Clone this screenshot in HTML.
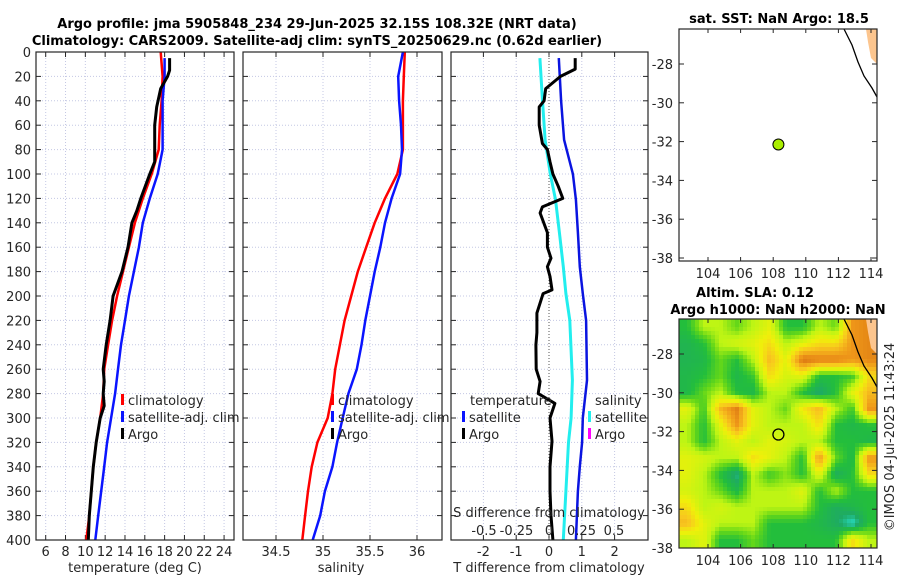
<!DOCTYPE html>
<html><head><meta charset="utf-8"><style>
body{margin:0;background:#fff}
svg{display:block;font-family:"DejaVu Sans","Liberation Sans",sans-serif}
</style></head><body>
<svg id="c" width="900" height="580" viewBox="0 0 900 580" xmlns="http://www.w3.org/2000/svg">
<defs>
<clipPath id="m2clip"><rect x="679" y="319" width="198" height="229"/></clipPath>
</defs>
<text x="317" y="28" text-anchor="middle" font-weight="bold" font-size="13">Argo profile: jma 5905848_234 29-Jun-2025 32.15S 108.32E (NRT data)</text>
<text x="317" y="45" text-anchor="middle" font-weight="bold" font-size="13">Climatology: CARS2009. Satellite-adj clim: synTS_20250629.nc (0.62d earlier)</text>
<text x="779" y="23" text-anchor="middle" font-weight="bold" font-size="13">sat. SST: NaN Argo: 18.5</text>
<text x="755" y="297" text-anchor="middle" font-weight="bold" font-size="13">Altim. SLA: 0.12</text>
<text x="778" y="314" text-anchor="middle" font-weight="bold" font-size="13">Argo h1000: NaN h2000: NaN</text>
<text transform="translate(894,437) rotate(-90)" text-anchor="middle" font-size="13" fill="#262626">©IMOS 04-Jul-2025 11:43:24</text>
<g id="g"></g>
</svg>
<script>
// ---- data ----
const depths = [0,20,40,60,80,100,120,140,160,180,200,220,240,260,280,300,320,340,360,380,400];
const tempClim = [17.6,17.8,17.7,17.5,17.4,16.7,15.8,15.0,14.4,13.8,13.2,12.7,12.3,11.9,11.8,11.5,11.1,10.8,10.6,10.4,10.1];
const tempSat  = [18.0,18.0,17.8,17.8,17.8,17.3,16.5,15.8,15.4,14.9,14.4,14.0,13.6,13.3,13.0,12.6,12.2,11.9,11.6,11.3,11.0];
const argoDepths = [5,15,20,30,45,60,80,90,100,120,130,140,160,180,200,220,240,260,270,280,290,300,320,340,360,380,400];
const tempArgo   = [18.5,18.5,18.3,17.6,17.2,17.0,17.0,17.0,16.5,15.6,15.2,14.7,14.3,13.7,12.8,12.5,12.1,11.8,11.9,11.8,11.9,11.5,11.1,10.8,10.6,10.4,10.3];
const salClim = [35.87,35.86,35.85,35.85,35.85,35.79,35.66,35.55,35.46,35.37,35.30,35.23,35.18,35.13,35.10,35.05,34.94,34.88,34.84,34.81,34.78];
const salSat  = [35.85,35.80,35.81,35.83,35.84,35.82,35.73,35.66,35.61,35.55,35.50,35.45,35.41,35.36,35.27,35.21,35.15,35.10,35.02,34.97,34.89];
const diffDepthsSat = [5,40,72,100,121,148,176,198,220,269,300,320,340,360,380,400];
const tDiffSat = [0.30,0.37,0.46,0.73,0.82,0.88,0.94,1.03,1.13,1.16,1.03,1.01,0.94,0.88,0.85,0.82];
const sDiffSat = [-0.07,-0.05,-0.03,0.01,0.05,0.08,0.11,0.13,0.16,0.18,0.17,0.15,0.14,0.13,0.12,0.11];
const diffDepthsArgo = [5,14,20,30,40,45,60,75,80,90,100,110,120,127,132,148,160,169,176,184,195,198,214,230,240,260,270,280,288,300,319,340,360,380,400];
const tDiffArgo = [0.8,0.8,0.35,-0.1,-0.15,-0.3,-0.3,-0.2,-0.05,0.03,0.12,0.28,0.42,-0.2,-0.27,-0.05,-0.05,0.06,-0.05,0.03,0.09,-0.18,-0.37,-0.37,-0.4,-0.39,-0.27,-0.33,0.18,0.03,0.09,0.03,0.03,0.06,0.12];
const tempTicks = [6,8,10,12,14,16,18,20,22,24];
const salTicks = [34.5,35,35.5,36];
const tDiffTicks = [-2,-1,0,1,2];
const sDiffTicks = [-0.5,-0.25,0,0.25,0.5];
const sDiffTickLabels = ["-0.5","-0.25","0","0.25","0.5"];
const depthTicks = [0,20,40,60,80,100,120,140,160,180,200,220,240,260,280,300,320,340,360,380,400];
const lonTicks = [104,106,108,110,112,114];
const latTicks = [-28,-30,-32,-34,-36,-38];
const argoLon = 108.32, argoLat = -32.15;
// SLA grid: rows top->bottom (lat), cols left->right (lon); null = land
const slaGrid = [
[-1,0,0,-0.5,0,0.5,-1,-1,0,-0.5,2,null],
[-1.3,-1,0,0.3,0.5,1,0,0.5,1,1,2,null],
[-1.3,-1.2,-0.5,-1,0,1.5,0.5,2.5,2.3,2.3,2,null],
[-1.2,-1,-0.5,-1.2,-0.8,1,0.3,0.5,-1,-1,-0.8,1],
[-1.2,-0.5,0,-1,-1.2,0,0,-1,-1.7,-1,0.5,1.5],
[0.5,-0.8,1.5,2.3,0.5,0,-0.5,0.8,1.5,0,-0.8,2],
[0,-1,0.5,2,0.5,0,0,0,1,-1,-1.2,-1],
[0,-1,0,0.5,0,0.5,0.3,0,0,-1,-1,-1.2],
[0.5,0.3,0,0,1,0.5,0,-1,2,-0.5,-1.2,2],
[0.5,0,-1,-1.8,0,-0.8,-0.3,-1,0.5,-1.5,-1,1],
[0.3,0,-0.5,-1.2,0,0,0,0.5,-1,0,-1,-1],
[1,0,0.3,0,0,0,0,0,-1,-1.5,-1.2,-1],
[1.5,0.5,0,0,0,-1,-1,-1,-1.2,-1.5,-2.2,-1],
[0,0.5,-1,-1,-0.5,-1,-1,-1,-1,-1,1,0]];

// ---- drawing ----
const NS='http://www.w3.org/2000/svg';
const G=document.getElementById('g');
function mk(tag,attrs,parent){const e=document.createElementNS(NS,tag);for(const k in attrs)e.setAttribute(k,attrs[k]);(parent||G).appendChild(e);return e;}
const yD = d => 52 + d*1.22;
const P1={x0:36,x1:234}, P2={x0:243,x1:442}, P3={x0:451,x1:648};
const xT = t => 45.7 + (t-6)*9.91;
const xS = s => 323 + (s-35)*94;
const xdT = v => 549 + v*32.8;
const xdS = v => 549 + v*130;
const mLon = lon => 708 + (lon-104)*16.3;
const m1Lat = lat => 64 + (-28-lat)*19.4;
const m2Lat = lat => 354 + (-28-lat)*19.4;

function panel(P,name){
  const gr=mk('g',{});
  
  
  depthTicks.forEach(d=>{
    mk('line',{x1:P.x0,x2:P.x1,y1:yD(d),y2:yD(d),stroke:'#c4c8e4','stroke-width':1,'stroke-dasharray':'1,2'},gr);
    mk('line',{x1:P.x0,x2:P.x0+5,y1:yD(d),y2:yD(d),stroke:'#262626'},gr);
    mk('line',{x1:P.x1-5,x2:P.x1,y1:yD(d),y2:yD(d),stroke:'#262626'},gr);
  });
  return gr;
}
function vgrid(gr,xs,P){xs.forEach(x=>{
  mk('line',{x1:x,x2:x,y1:52,y2:540,stroke:'#c4c8e4','stroke-dasharray':'1,2'},gr);
  mk('line',{x1:x,x2:x,y1:52,y2:57,stroke:'#262626'},gr);
  mk('line',{x1:x,x2:x,y1:535,y2:540,stroke:'#262626'},gr);
});}
function frame(P,gr){mk('rect',{x:P.x0,y:52,width:P.x1-P.x0,height:488,fill:'none',stroke:'#262626','stroke-width':1.2},gr);}
function line(xs,ds,xf,color,w,name,gr){
  const pts=xs.map((v,i)=>xf(v).toFixed(1)+','+yD(ds[i]).toFixed(1)).join(' ');
  const p=mk('polyline',{points:pts,fill:'none',stroke:color,'stroke-width':w,'stroke-linejoin':'round'},gr);
  
  
}
function txt(x,y,s,attrs,name){const t=mk('text',Object.assign({x:x,y:y,'font-size':13,fill:'#262626'},attrs||{}));t.textContent=s;
  
  
  return t;}

depthTicks.forEach(d=>{txt(31,yD(d)+5,String(d),{'text-anchor':'end'},'depth-tick-label');});

// panel 1
let g1=panel(P1,'temperature-panel');
vgrid(g1,tempTicks.map(xT),P1);
line(tempClim,depths,xT,'#ff0000',2.5,'temp-climatology-line',g1);
line(tempSat,depths.map((d,i)=>i===0?5:d),xT,'#0a14ff',2.5,'temp-satellite-line',g1);
line(tempArgo,argoDepths,xT,'#000',3,'temp-argo-line',g1);
frame(P1,g1);
tempTicks.forEach(t=>txt(xT(t),556,String(t),{'text-anchor':'middle'},'temp-tick-label'));
txt(135,572,'temperature (deg C)',{'text-anchor':'middle'},'temp-axis-title');

// panel 2
let g2=panel(P2,'salinity-panel');
vgrid(g2,salTicks.map(xS),P2);
line(salClim,depths,xS,'#ff0000',2.5,'sal-climatology-line',g2);
line(salSat,depths,xS,'#0a14ff',2.5,'sal-satellite-line',g2);
frame(P2,g2);
salTicks.forEach(s=>txt(xS(s),556,String(s),{'text-anchor':'middle'},'sal-tick-label'));
txt(341,572,'salinity',{'text-anchor':'middle'},'sal-axis-title');

// panel 3
let g3=panel(P3,'difference-panel');
vgrid(g3,tDiffTicks.map(xdT),P3);
mk('line',{x1:549,x2:549,y1:52,y2:540,stroke:'#555','stroke-dasharray':'1,2'},g3);
line(sDiffSat,diffDepthsSat,xdS,'#22eeee',3,'sal-diff-satellite-line',g3);
line(tDiffSat,diffDepthsSat,xdT,'#0a14e0',2.5,'temp-diff-satellite-line',g3);
line(tDiffArgo,diffDepthsArgo,xdT,'#000',3,'temp-diff-argo-line',g3);
frame(P3,g3);
tDiffTicks.forEach(t=>txt(xdT(t),556,String(t),{'text-anchor':'middle'},'tdiff-tick-label'));
txt(549,572,'T difference from climatology',{'text-anchor':'middle'},'tdiff-axis-title');
txt(549,517,'S difference from climatology',{'text-anchor':'middle'},'sdiff-axis-title');
sDiffTicks.forEach((s,i)=>txt(xdS(s),535,sDiffTickLabels[i],{'text-anchor':'middle'},'sdiff-tick-label'));

function legItem(x,y,color,label,name){
  const r=mk('rect',{x:x,y:y-11,width:3,height:11,fill:color});
  
  
  txt(x+7,y,label,{},name);
}
legItem(121,405,'#ff0000','climatology','legend-climatology');
legItem(121,422,'#0a14ff','satellite-adj. clim','legend-satellite');
legItem(121,439,'#000','Argo','legend-argo');
legItem(331,405,'#ff0000','climatology','legend2-climatology');
legItem(331,422,'#0a14ff','satellite-adj. clim','legend2-satellite');
legItem(331,439,'#000','Argo','legend2-argo');
txt(470,405,'temperature',{},'legend3-temperature-header');
legItem(462,422,'#0a14ff','satellite','legend3-temp-satellite');
legItem(462,439,'#000','Argo','legend3-temp-argo');
txt(595,405,'salinity',{},'legend3-salinity-header');
legItem(588,422,'#22eeee','satellite','legend3-sal-satellite');
legItem(588,439,'#ff00ff','Argo','legend3-sal-argo');

// maps
function mapAxes(top,bot,latF,name){
  const gr=mk('g',{});
  
  
  mk('rect',{x:679,y:top,width:198,height:bot-top,fill:'none',stroke:'#262626','stroke-width':1.2},gr);
  latTicks.forEach(l=>{const y=latF(l);
    mk('line',{x1:679,x2:684,y1:y,y2:y,stroke:'#262626'},gr);
    mk('line',{x1:872,x2:877,y1:y,y2:y,stroke:'#262626'},gr);
    txt(673,y+5,String(l),{'text-anchor':'end'},'lat-tick-label');});
  lonTicks.forEach(l=>{const x=mLon(l);
    mk('line',{x1:x,x2:x,y1:top,y2:top+4,stroke:'#262626'},gr);
    mk('line',{x1:x,x2:x,y1:bot-4,y2:bot,stroke:'#262626'},gr);
    txt(x,bot+17,String(l),{'text-anchor':'middle'},'lon-tick-label');});
}
function coast(off){
  const land=mk('polygon',{points:`866,${29+off} 877,${29+off} 877,${64+off} 871,${58+off} 868,${42+off}`,fill:'#fcc58e'});
  
  
  const c=mk('polyline',{points:`844,${29+off} 852,${45+off} 858,${62+off} 864,${76+off} 872,${88+off} 877,${97+off}`,fill:'none',stroke:'#000','stroke-width':1.3});
  
  
}
coast(0);
mapAxes(29,261,m1Lat,'sst-map');
const dot=mk('circle',{cx:mLon(argoLon),cy:m1Lat(argoLat),r:5.5,fill:'#aaee00',stroke:'#000','stroke-width':1});



function slaColor(v){
  const st=[[-2.2,[40,225,205]],[-1.6,[30,170,100]],[-1,[35,190,60]],[-0.5,[100,215,25]],[0,[190,245,20]],[0.7,[240,240,10]],[1.3,[248,200,30]],[2,[238,150,25]],[2.6,[212,108,15]]];
  if(v<=st[0][0])return 'rgb('+st[0][1]+')';
  for(let i=1;i<st.length;i++){if(v<=st[i][0]){const a=st[i-1],b=st[i],f=(v-a[0])/(b[0]-a[0]);
    return 'rgb('+a[1].map((c,k)=>Math.round(c+(b[1][k]-c)*f)).join(',')+')';}}
  return 'rgb('+st[st.length-1][1]+')';
}
const hm=mk('g',{'clip-path':'url(#m2clip)'});


const nR=slaGrid.length,nC=slaGrid[0].length,cw=198/nC,ch=229/nR;
function gv(r,c){r=Math.max(0,Math.min(nR-1,r));c=Math.max(0,Math.min(nC-1,c));const v=slaGrid[r][c];return v===null?2.2:v;}
const step=4;
for(let py=319;py<548;py+=step){for(let px=679;px<877;px+=step){
  const fr=(py+step/2-319)/ch-0.5, fc=(px+step/2-679)/cw-0.5;
  const r0=Math.floor(fr),c0=Math.floor(fc),tr=fr-r0,tc=fc-c0;
  const v=gv(r0,c0)*(1-tr)*(1-tc)+gv(r0,c0+1)*(1-tr)*tc+gv(r0+1,c0)*tr*(1-tc)+gv(r0+1,c0+1)*tr*tc;
  const cell=mk('rect',{x:px,y:py,width:step+0.5,height:step+0.5,fill:slaColor(v)},hm);
  
  
}}
coast(290);
mapAxes(319,548,m2Lat,'sla-map');
const ring=mk('circle',{cx:mLon(argoLon),cy:m2Lat(argoLat),r:5.5,fill:'none',stroke:'#000','stroke-width':1.3});


</script>
</body></html>
